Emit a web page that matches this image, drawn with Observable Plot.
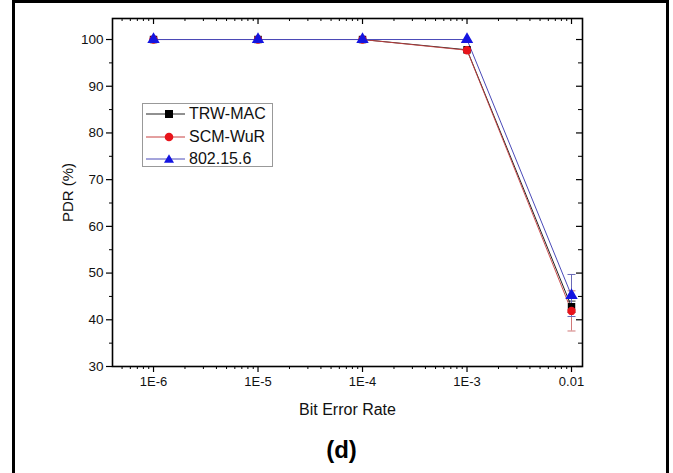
<!DOCTYPE html>
<html>
<head>
<meta charset="utf-8">
<script src="https://cdn.jsdelivr.net/npm/d3@7"></script>
<script src="https://cdn.jsdelivr.net/npm/@observablehq/plot@0.6"></script>
<style>
  html, body { margin: 0; padding: 0; background: #fff; }
  #wrap { position: relative; width: 673px; height: 473px; overflow: hidden; font-family: "Liberation Sans", Arial, sans-serif; }
  #border { position: absolute; left: 12px; top: 0; width: 651px; height: 480px; border: 3px solid #000; border-bottom: none; pointer-events: none; }
  #legend { position: absolute; left: 142px; top: 103px; width: 129px; height: 62px; border: 1px solid #999; background: #fff; }
  .row { position: absolute; left: 0; height: 20px; width: 129px; }
  .row svg { position: absolute; left: 2px; top: 0; }
  .row span { position: absolute; left: 46px; top: 0; line-height: 20px; font-size: 16px; color: #111; }
</style>
</head>
<body>
<div id="wrap"><div id="chart"></div><div id="legend"></div><div id="border"></div></div>
<script>
// ---- data ----
const berValues = [1e-6, 1e-5, 1e-4, 1e-3, 1e-2];
const xTickLabels = ["1E-6", "1E-5", "1E-4", "1E-3", "0.01"];
const seriesNames = ["TRW-MAC", "SCM-WuR", "802.15.6"];
const trwMac = [100, 100, 100, 97.8, 42.8];
const scmWur = [100, 100, 100, 97.7, 41.9];
const ieee = [100, 100, 100, 100, 45.2];
const trwErr = [0, 0, 0, 0, 1.2];
const scmErr = [0, 0, 0, 0, 4.3];
const ieeeErr = [0, 0, 0, 0, 4.5];
const yTicks = [30, 40, 50, 60, 70, 80, 90, 100];
const yMinor = [35, 45, 55, 65, 75, 85, 95];

const colors = {"TRW-MAC": "#000000", "SCM-WuR": "#e8141b", "802.15.6": "#1414e0"};
const lineColors = {"TRW-MAC": "#222222", "SCM-WuR": "#c84040", "802.15.6": "#4a4ab8"};
const errColors = {"TRW-MAC": "#333333", "SCM-WuR": "#d07878", "802.15.6": "#6a6ab8"};
const symbols = {"TRW-MAC": "square", "SCM-WuR": "circle", "802.15.6": "triangle"};

const valuesBy = [trwMac, scmWur, ieee];
const errsBy = [trwErr, scmErr, ieeeErr];
const rows = [];
seriesNames.forEach((s, si) => berValues.forEach((b, i) => rows.push({series: s, ber: b, pdr: valuesBy[si][i], err: errsBy[si][i]})));
const errRows = rows.filter(d => d.err > 0);

// minor log ticks (2..9 per decade)
const xDomain = [4.05e-7, 0.01274];
const xMinor = [];
for (let e = -7; e <= -2; e++) for (let k = 2; k <= 9; k++) { const v = k * Math.pow(10, e); if (v >= xDomain[0] && v <= xDomain[1]) xMinor.push(v); }

const W = 673, H = 473, mL = 112, mR = 91, mT = 18, mB = 107;
const fW = W - mL - mR, fH = H - mT - mB;

const capSymbol = { draw(ctx, size) { const r = Math.sqrt(size / Math.PI); ctx.moveTo(-r, 0); ctx.lineTo(r, 0); } };

const marks = [];
// axes (ticks)
marks.push(Plot.axisX(berValues, {anchor: "bottom", tickSize: 6, tickFormat: () => "", label: null, stroke: "#000", strokeWidth: 1.2}));
marks.push(Plot.axisX(xMinor, {anchor: "bottom", tickSize: 3, tickFormat: () => "", label: null, stroke: "#000", strokeWidth: 1}));
marks.push(Plot.axisY(yTicks, {anchor: "left", tickSize: 6, tickFormat: () => "", label: null, stroke: "#000", strokeWidth: 1.2}));
marks.push(Plot.axisY(yMinor, {anchor: "left", tickSize: 3, tickFormat: () => "", label: null, stroke: "#000", strokeWidth: 1}));
// tick labels
marks.push(Plot.text(berValues, {x: d => d, text: d => xTickLabels[berValues.indexOf(d)], frameAnchor: "bottom", dy: 10, lineAnchor: "top", textAnchor: "middle", fontSize: 13, fill: "#111"}));
marks.push(Plot.text(yTicks, {y: d => d, text: d => String(d), frameAnchor: "left", dx: -9, lineAnchor: "middle", textAnchor: "end", fontSize: 13.5, fill: "#111"}));
// inward ticks top and right
marks.push(Plot.ruleX(berValues, {insetBottom: fH - 6, stroke: "#000", strokeWidth: 1.2}));
marks.push(Plot.ruleX(xMinor, {insetBottom: fH - 3, stroke: "#000", strokeWidth: 1}));
marks.push(Plot.ruleY(yTicks, {insetLeft: fW - 6, stroke: "#000", strokeWidth: 1.2}));
marks.push(Plot.ruleY(yMinor, {insetLeft: fW - 4, stroke: "#000", strokeWidth: 1}));
marks.push(Plot.frame({stroke: "#000", strokeWidth: 1.6}));

// error bars
seriesNames.forEach(s => {
  const er = errRows.filter(d => d.series === s);
  marks.push(Plot.ruleX(er, {x: "ber", y1: d => d.pdr - d.err, y2: d => d.pdr + d.err, stroke: errColors[s], strokeWidth: 1}));
  marks.push(Plot.dot(er, {x: "ber", y: d => d.pdr - d.err, symbol: capSymbol, r: 4, stroke: errColors[s], strokeWidth: 1, fill: "none"}));
  marks.push(Plot.dot(er, {x: "ber", y: d => d.pdr + d.err, symbol: capSymbol, r: 4, stroke: errColors[s], strokeWidth: 1, fill: "none"}));
});
// lines
seriesNames.forEach(s => {
  marks.push(Plot.line(rows.filter(d => d.series === s), {x: "ber", y: "pdr", stroke: lineColors[s], strokeWidth: s === "SCM-WuR" ? 0.9 : 1}));
});
// markers
seriesNames.forEach(s => {
  marks.push(Plot.dot(rows.filter(d => d.series === s), {x: "ber", y: "pdr", symbol: symbols[s], r: s === "802.15.6" ? 4.6 : 4.2, fill: colors[s], stroke: "none"}));
});
// labels
marks.push(Plot.text(["Bit Error Rate"], {frameAnchor: "bottom", dy: 43, lineAnchor: "middle", textAnchor: "middle", fontSize: 16, fill: "#111"}));
marks.push(Plot.text(["PDR (%)"], {frameAnchor: "left", dx: -44, rotate: -90, lineAnchor: "middle", textAnchor: "middle", fontSize: 15, fill: "#111"}));
marks.push(Plot.text(["(d)"], {frameAnchor: "bottom", dy: 84, dx: -6, lineAnchor: "middle", textAnchor: "middle", fontSize: 24, fontWeight: "bold", fill: "#000"}));

const chart = Plot.plot({
  width: W, height: H,
  marginLeft: mL, marginRight: mR, marginTop: mT, marginBottom: mB,
  style: {fontFamily: "'Liberation Sans', Arial, sans-serif", fontSize: "13px", color: "#111", background: "#fff", overflow: "visible"},
  x: {type: "log", domain: xDomain, axis: null},
  y: {domain: [30, 104.5], axis: null},
  marks
});
document.getElementById("chart").appendChild(chart);

// legend
const legend = document.getElementById("legend");
const symPaths = {
  "TRW-MAC": '<rect x="20" y="6" width="8" height="8" fill="#000"/>',
  "SCM-WuR": '<circle cx="24" cy="10" r="4.3" fill="#e8141b"/>',
  "802.15.6": '<path d="M24,5.2L29,13.8L19,13.8Z" fill="#1414e0"/>'
};
seriesNames.forEach((s, i) => {
  const row = document.createElement("div");
  row.className = "row";
  row.style.top = (i * 22.5) + "px";
  row.innerHTML = `<svg width="42" height="20"><line x1="1" x2="40" y1="10" y2="10" stroke="${lineColors[s]}" stroke-width="1"/>${symPaths[s]}</svg><span>${s}</span>`;
  legend.appendChild(row);
});
</script>
</body>
</html>
